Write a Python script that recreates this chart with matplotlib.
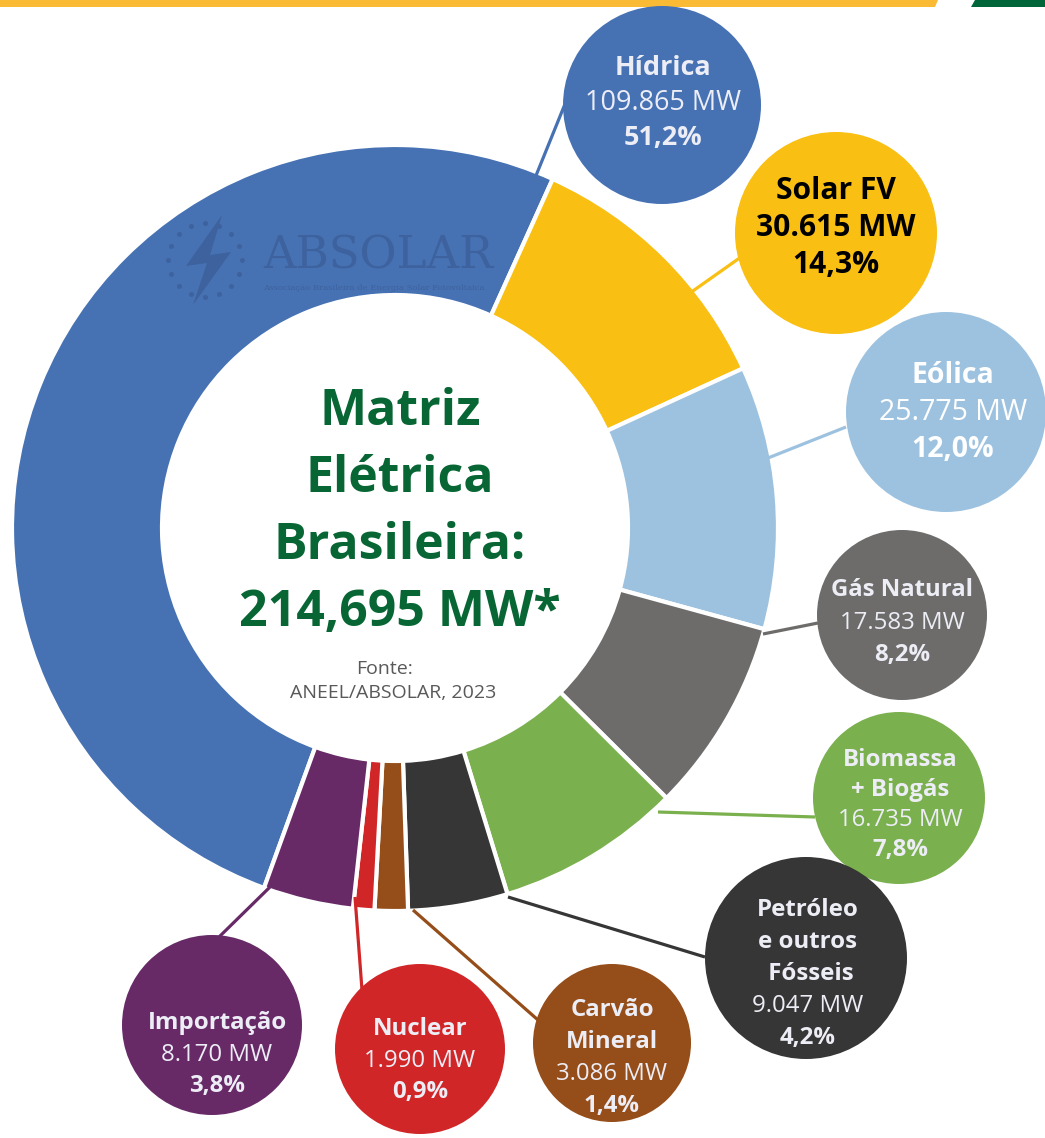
import matplotlib.pyplot as plt
import numpy as np

# ---------------- Dados ----------------
fontes = ['Hídrica', 'Solar FV', 'Eólica', 'Gás Natural', 'Biomassa\n+ Biogás',
          'Petróleo\ne outros\n Fósseis', 'Carvão\nMineral', 'Nuclear', 'Importação']
potencia_mw = [109865, 30615, 25775, 17583, 16735, 9047, 3086, 1990, 8170]
percentual = [51.2, 14.3, 12.0, 8.2, 7.8, 4.2, 1.4, 0.9, 3.8]
# fatia de cada fonte no anel, como aparece desenhada
fatia_anel = [51.2, 11.4, 11.1, 8.2, 7.8, 4.2, 1.4, 0.9, 3.8]
titulo = ['Matriz', 'Elétrica', 'Brasileira:', '214,695 MW*']
fonte_txt = ['Fonte:', 'ANEEL/ABSOLAR, 2023']

cores = ['#4672B4', '#F9BF12', '#9DC2E0', '#6E6C6A', '#7BB04E',
         '#363636', '#954D19', '#D12628', '#672A67']
cor_texto = ['#EDEDF6', '#000000', '#FFFFFF', '#EDEDF6', '#EDEDF6',
             '#EDEDF6', '#EDEDF6', '#EDEDF6', '#EDEDF6']
verde = '#076634'
familia = ['Open Sans', 'DejaVu Sans']

# ---------------- Layout (pixels) ----------------
W, H = 1045, 1138
cx, cy, R, larg = 395, 528, 383, 150
# circulo: x, y, raio, texto x, texto y (centro), fonte px, espacamento
circulos = [
    (662, 105, 99, 663, 100, 27, 35),
    (836, 233, 101, 836, 225, 30, 37),
    (946, 412, 100, 953, 410, 28.5, 37),
    (902, 615, 85, 902, 620, 24, 32.5),
    (899, 798, 86, 900, 802, 24, 30),
    (806, 958, 101, 808, 971, 24, 32),
    (612, 1043, 79, 612, 1055, 24, 32),
    (420, 1049, 85, 420, 1058, 24, 31.5),
    (212, 1025, 90, 217, 1052, 24, 31.5),
]
# linhas de chamada: anel -> circulo
chamadas = [
    (533, 183, 565, 104),
    (690, 293, 741, 257),
    (768, 458, 846, 427),
    (763, 634, 818, 623),
    (658, 812, 815, 817),
    (508, 897, 705, 957),
    (413, 910, 538, 1020),
    (355, 897, 362, 990),
    (270, 887, 218, 938),
]

fig = plt.figure(figsize=(W / 100, H / 100), dpi=100)
ax = fig.add_axes([0, 0, 1, 1])

# anel (eixo y invertido: counterclock=True fica horario na tela)
ax.pie(fatia_anel, colors=cores, startangle=110, counterclock=True,
       radius=R, center=(cx, cy),
       wedgeprops=dict(width=larg, edgecolor='white', linewidth=3))
ax.set_xlim(0, W)
ax.set_ylim(H, 0)
ax.set_aspect('auto')
ax.axis('off')

# faixa do topo
ax.fill([0, 938, 935, 0], [0, 0, 7, 7], color='#FBBA33', lw=0)
ax.fill([975, W, W, 971], [0, 0, 7, 7], color='#00663A', lw=0)

# marca d'agua ABSOLAR
marca = '#3D629D'
ang = np.linspace(0, 2 * np.pi, 17)[:-1]
ax.scatter(205 + 37 * np.cos(ang), 260 + 37 * np.sin(ang), s=13, color=marca, lw=0, zorder=2)
ax.fill([222, 186, 207, 193, 231, 210], [215, 266, 263, 305, 252, 255],
        color=marca, lw=0, zorder=2)
ax.text(263, 268, 'ABSOLAR', fontsize=32.5, color=marca, ha='left', va='baseline',
        family='DejaVu Serif', zorder=2)
ax.text(263, 290, 'Associação Brasileira de Energia Solar Fotovoltaica', fontsize=6.1,
        color=marca, ha='left', va='baseline', family='DejaVu Serif', zorder=2)

# chamadas e circulos
for i, (x0, y0, x1, y1) in enumerate(chamadas):
    ax.plot([x0, x1], [y0, y1], color=cores[i], lw=2.3, solid_capstyle='butt', zorder=1)

for i, (x, y, r, tx, ty, fpx, esp) in enumerate(circulos):
    ax.add_patch(plt.Circle((x, y), r, color=cores[i], lw=0, zorder=3))
    nome = fontes[i].split('\n')
    mw = f'{potencia_mw[i]:,} MW'.replace(',', '.')
    pct = f'{percentual[i]:.1f}%'.replace('.', ',')
    peso_mw = 'bold' if i == 1 else 'normal'
    linhas = [(n, 'bold') for n in nome] + [(mw, peso_mw), (pct, 'bold')]
    n = len(linhas)
    for k, (txt, peso) in enumerate(linhas):
        yk = ty + (k - (n - 1) / 2) * esp + 0.36 * fpx
        ax.text(tx, yk, txt, fontsize=fpx * 0.72, fontweight=peso, color=cor_texto[i],
                ha='center', va='baseline', family=familia, zorder=4)

# titulo central
for k, txt in enumerate(titulo):
    ax.text(400, 425 + k * 67, txt, fontsize=36, fontweight='bold', color=verde,
            ha='center', va='baseline', family=familia, zorder=4)
ax.text(385, 674, fonte_txt[0], fontsize=14, color='#595959', ha='center',
        va='baseline', family=familia)
ax.text(393, 698, fonte_txt[1], fontsize=14, color='#595959', ha='center',
        va='baseline', family=familia)

plt.savefig('out.png', dpi=100)
